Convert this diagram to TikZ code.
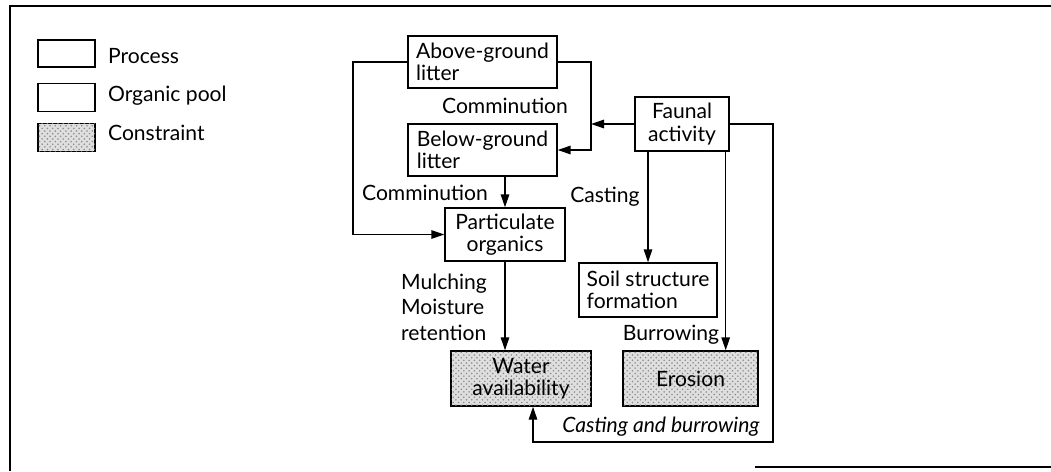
\documentclass[tikz,border=0pt]{standalone}
\usepackage{fontspec}
\setmainfont{Lato}
\usetikzlibrary{arrows.meta, positioning, patterns}
\tikzstyle{pool} = [rectangle, draw=black, line width=0.8pt, inner sep=2pt, align=left]
\tikzstyle{limit} = [pool, fill=gray!25, postaction={pattern=crosshatch dots, pattern color=gray!90}]
\tikzstyle{lbl} = [inner sep=1pt, align=left]
\tikzstyle{arrow} = [line width=0.8pt, -{Triangle[length=2.6mm, width=1.7mm]}]

\begin{document}
\begin{tikzpicture}[x=0.02cm, y=-0.02cm, font=\fontsize{12}{12.8}\selectfont]
    \useasboundingbox (0,0) rectangle (1051,471);
    % frame
    \draw[line width=0.8pt] (1051,6) -- (10,6) -- (10,471);
    \draw[line width=0.8pt] (755,467) -- (1051,467);

    % Legend
    \node (keyproc) [pool, minimum width=1.14cm, minimum height=0.54cm] at (66.5,53.5) {};
    \node (keypool) [pool, minimum width=1.14cm, minimum height=0.56cm] at (66.5,97.5) {};
    \node (keylimit) [limit, minimum width=1.14cm, minimum height=0.56cm] at (66.5,137.5) {};
    \node (tproc) [lbl, anchor=west] at (106,56) {Process};
    \node (tpool) [lbl, anchor=west] at (106,96) {Organic pool};
    \node (tlimit) [lbl, anchor=west] at (106,133) {Constraint};

    % Boxes
    \node (above) [pool, minimum width=2.98cm, minimum height=1.04cm] at (482.5,62) {Above-ground\\litter};
    \node (below) [pool, minimum width=2.98cm, minimum height=1.04cm] at (482.5,150) {Below-ground\\litter};
    \node (faunal) [pool, align=center, minimum width=1.88cm, minimum height=1.08cm] at (682,124) {Faunal\\activity};
    \node (part) [pool, align=center, minimum width=2.4cm, minimum height=1.06cm] at (505,234.5) {Particulate\\organics};
    \node (soil) [pool, minimum width=2.76cm, minimum height=1.08cm] at (648,290) {Soil structure\\formation};
    \node (water) [limit, align=center, minimum width=2.8cm, minimum height=1.1cm] at (521,378.5) {Water\\availability};
    \node (erosion) [limit, align=center, minimum width=2.7cm, minimum height=1.1cm] at (690.5,378.5) {Erosion};

    % Labels
    \node (comm1) [lbl] at (505,106) {Comminution};
    \node (comm2) [lbl] at (425,193) {Comminution};
    \node (cast) [lbl] at (605,197) {Casting};
    \node (mulch) [lbl, anchor=west, font=\fontsize{12}{14.5}\selectfont] at (399,307) {Mulching\\Moisture\\retention};
    \node (burrow) [lbl] at (671,335) {Burrowing};
    \node (loop) [lbl] at (661,427) {\itshape Casting and burrowing};

    % Arrows
    \coordinate (ljoin) at (353,62);
    \coordinate (rjoin) at (591,124);
    \coordinate (burrowx) at ([xshift=-0.08cm]faunal.south east);
    \coordinate (loopx) at (773,442);
    \coordinate (waterin) at ([xshift=0.24cm]water.south);
    \draw [arrow] (above.west) -- (ljoin) |- (part.west);
    \draw [arrow] (above.east) -| (rjoin) |- (below.east);
    \draw [arrow] (faunal.west) -- (rjoin);
    \draw [arrow] (below.south -| part.north) -- (part.north);
    \draw [arrow] (part.south) -- (part.south |- water.north);
    \draw [arrow] (soil.north |- faunal.south) -- (soil.north);
    \draw [arrow] (burrowx) -- (burrowx |- erosion.north);
    \draw [arrow] (faunal.east) -| (loopx) -| (waterin);
\end{tikzpicture}
\end{document}
